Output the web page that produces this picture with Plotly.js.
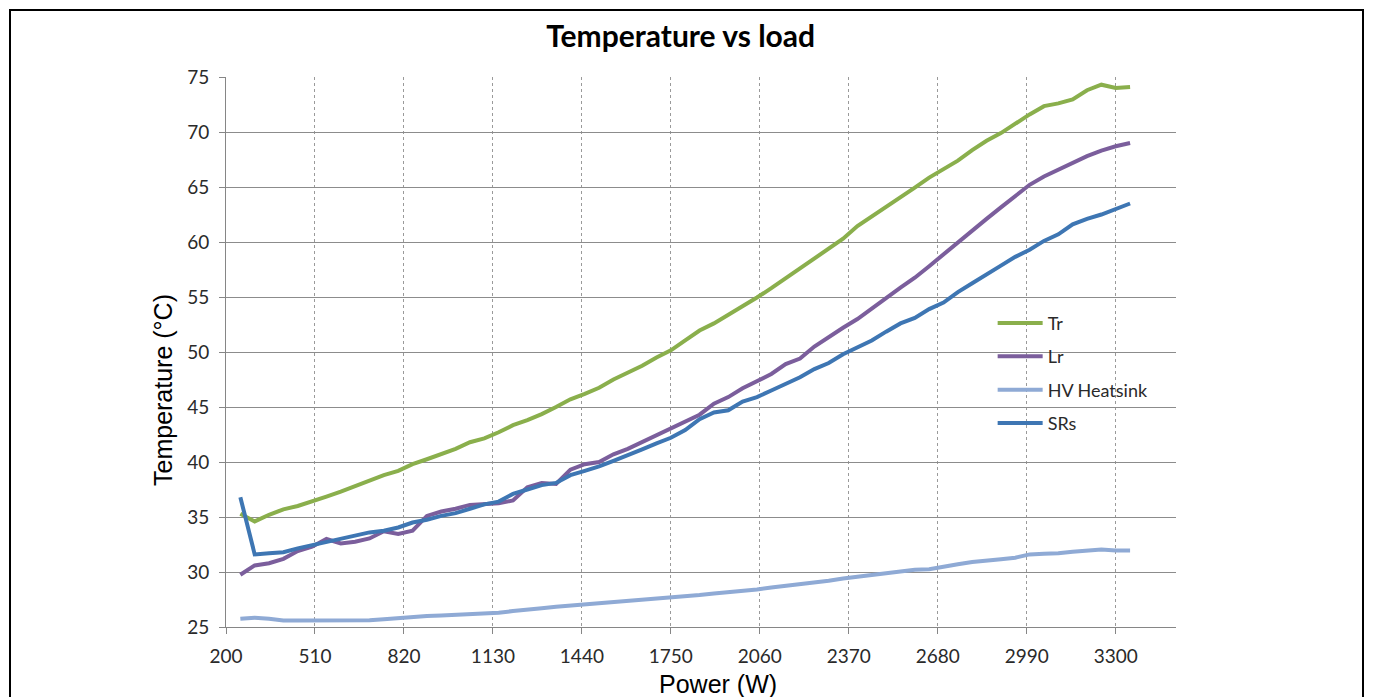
<!DOCTYPE html>
<html>
<head>
<meta charset="utf-8">
<script src="https://cdn.plot.ly/plotly-3.0.1.min.js"></script>
<style>
  html, body { margin: 0; padding: 0; background: #fff; overflow: hidden; }
  #chart { width: 1375px; height: 697px; }
  #frame { position: absolute; left: 9px; top: 9px; width: 1355px; height: 720px;
           border: 2px solid #000; pointer-events: none; box-sizing: border-box; }
</style>
</head>
<body>
<div id="chart"></div>
<div id="frame"></div>
<script>
// Power (W) categories
const power = [250,300,350,400,450,500,550,600,650,700,750,800,850,900,950,1000,1050,1100,1150,1200,
  1250,1300,1350,1400,1450,1500,1550,1600,1650,1700,1750,1800,1850,1900,1950,2000,2050,2100,2150,2200,
  2250,2300,2350,2400,2450,2500,2550,2600,2650,2700,2750,2800,2850,2900,2950,3000,3050,3100,3150,3200,
  3250,3300,3350];

const tr = [35.3,34.6,35.2,35.7,36.0,36.4,36.85,37.3,37.8,38.35,38.8,39.2,39.8,40.25,40.7,41.2,41.8,42.15,42.7,43.35,
  43.8,44.35,45.0,45.7,46.2,46.75,47.5,48.1,48.75,49.5,50.15,51.05,51.95,52.6,53.35,54.1,54.95,55.8,56.7,57.5,
  58.4,59.4,60.3,61.45,62.3,63.2,64.1,64.95,65.85,66.6,67.4,68.35,69.2,69.9,70.8,71.6,72.35,72.6,72.97,73.8,
  74.3,74.0,74.1];

const lr = [29.75,30.6,30.8,31.2,31.9,32.3,33.0,32.6,32.75,33.05,33.7,33.45,33.75,35.1,35.5,35.75,36.1,36.2,36.25,36.5,
  37.7,38.1,38.0,39.3,39.8,40.0,40.7,41.2,41.8,42.4,43.0,43.6,44.3,45.3,45.9,46.7,47.3,48.0,48.9,49.4,
  50.5,51.4,52.2,53.0,54.0,54.9,55.85,56.75,57.8,58.9,59.95,61.1,62.1,63.15,64.2,65.2,65.95,66.6,67.25,67.8,
  68.3,68.7,69.0];

const hv = [25.75,25.85,25.75,25.6,25.6,25.6,25.6,25.6,25.6,25.62,25.7,25.8,25.95,26.0,26.05,26.1,26.2,26.25,26.3,26.45,
  26.55,26.7,26.85,26.95,27.05,27.15,27.25,27.4,27.5,27.6,27.65,27.8,27.9,28.05,28.15,28.25,28.4,28.6,28.75,28.9,
  29.0,29.2,29.4,29.55,29.7,29.85,30.05,30.2,30.25,30.5,30.7,30.9,31.0,31.15,31.3,31.6,31.65,31.7,31.85,31.95,
  32.05,31.95,31.95];

const srs = [36.8,31.6,31.7,31.8,32.15,32.45,32.7,33.0,33.3,33.6,33.75,34.05,34.5,34.75,35.1,35.35,35.75,36.15,36.4,37.1,
  37.5,37.9,38.1,38.8,39.2,39.6,40.1,40.6,41.15,41.7,42.2,42.9,43.9,44.5,44.7,45.5,45.9,46.5,47.1,47.7,
  48.45,49.0,49.8,50.45,51.05,51.85,52.6,53.1,53.9,54.5,55.45,56.25,57.0,57.85,58.65,59.3,60.1,60.7,61.6,62.1,
  62.5,63.0,63.5];

const seriesNames = ["Tr", "Lr", "HV Heatsink", "SRs"];
const seriesData = [tr, lr, hv, srs];
const seriesColors = ["#8AAF4C", "#7B5E9C", "#8FAAD5", "#3E76B3"];

const traces = seriesNames.map((n, i) => ({
  type: "scatter", mode: "lines", name: n, x: power, y: seriesData[i],
  legendgroup: "g" + i,
  line: { color: seriesColors[i], width: 4 }
}));

const tickFont = { family: "Lato, Carlito, Calibri, sans-serif", size: 19, color: "#2a2a2a" };

const layout = {
  width: 1375, height: 697,
  margin: { l: 226, r: 199, t: 77, b: 70 },
  paper_bgcolor: "#fff", plot_bgcolor: "#fff",
  showlegend: true,
  title: { text: "<b>Temperature vs load</b>", x: 0.495, xanchor: "center", y: 0.948, yanchor: "middle",
           font: { family: "Lato, Carlito, Calibri, sans-serif", size: 30, color: "#000" } },
  xaxis: {
    range: [200, 3510], tick0: 200, dtick: 310, tickmode: "linear",
    showgrid: true, gridcolor: "#9a9a9a", gridwidth: 1, griddash: "dot",
    showline: true, linecolor: "#868686", linewidth: 1,
    ticks: "outside", ticklen: 6, tickcolor: "#868686",
    tickfont: tickFont, ticklabelstandoff: 6, zeroline: false
  },
  yaxis: {
    range: [25, 75], tick0: 25, dtick: 5, tickmode: "linear",
    showgrid: true, gridcolor: "#8c8c8c", gridwidth: 1,
    showline: true, linecolor: "#868686", linewidth: 1,
    ticks: "outside", ticklen: 6, tickcolor: "#868686",
    tickfont: tickFont, ticklabelstandoff: 6, zeroline: false
  },
  legend: {
    x: 0.807, y: 0.586, xanchor: "left", yanchor: "top",
    bgcolor: "rgba(0,0,0,0)", borderwidth: 0, itemwidth: 45,
    font: { family: "Lato, Carlito, Calibri, sans-serif", size: 18, color: "#2a2a2a" },
    traceorder: "grouped", tracegroupgap: 7
  },
  annotations: [
    { text: "Power (W)", xref: "paper", yref: "paper", x: (718 - 226) / 950, y: (627 - 684) / 550,
      xanchor: "center", yanchor: "middle", showarrow: false,
      font: { family: "Liberation Sans, Arial, sans-serif", size: 25, color: "#000" } },
    { text: "Temperature (°C)", xref: "paper", yref: "paper", x: (163 - 226) / 950, y: (627 - 390) / 550,
      xanchor: "center", yanchor: "middle", showarrow: false, textangle: -90,
      font: { family: "Liberation Sans, Arial, sans-serif", size: 25, color: "#000" } }
  ]
};

Plotly.newPlot("chart", traces, layout, { staticPlot: true, displayModeBar: false });
</script>
</body>
</html>
